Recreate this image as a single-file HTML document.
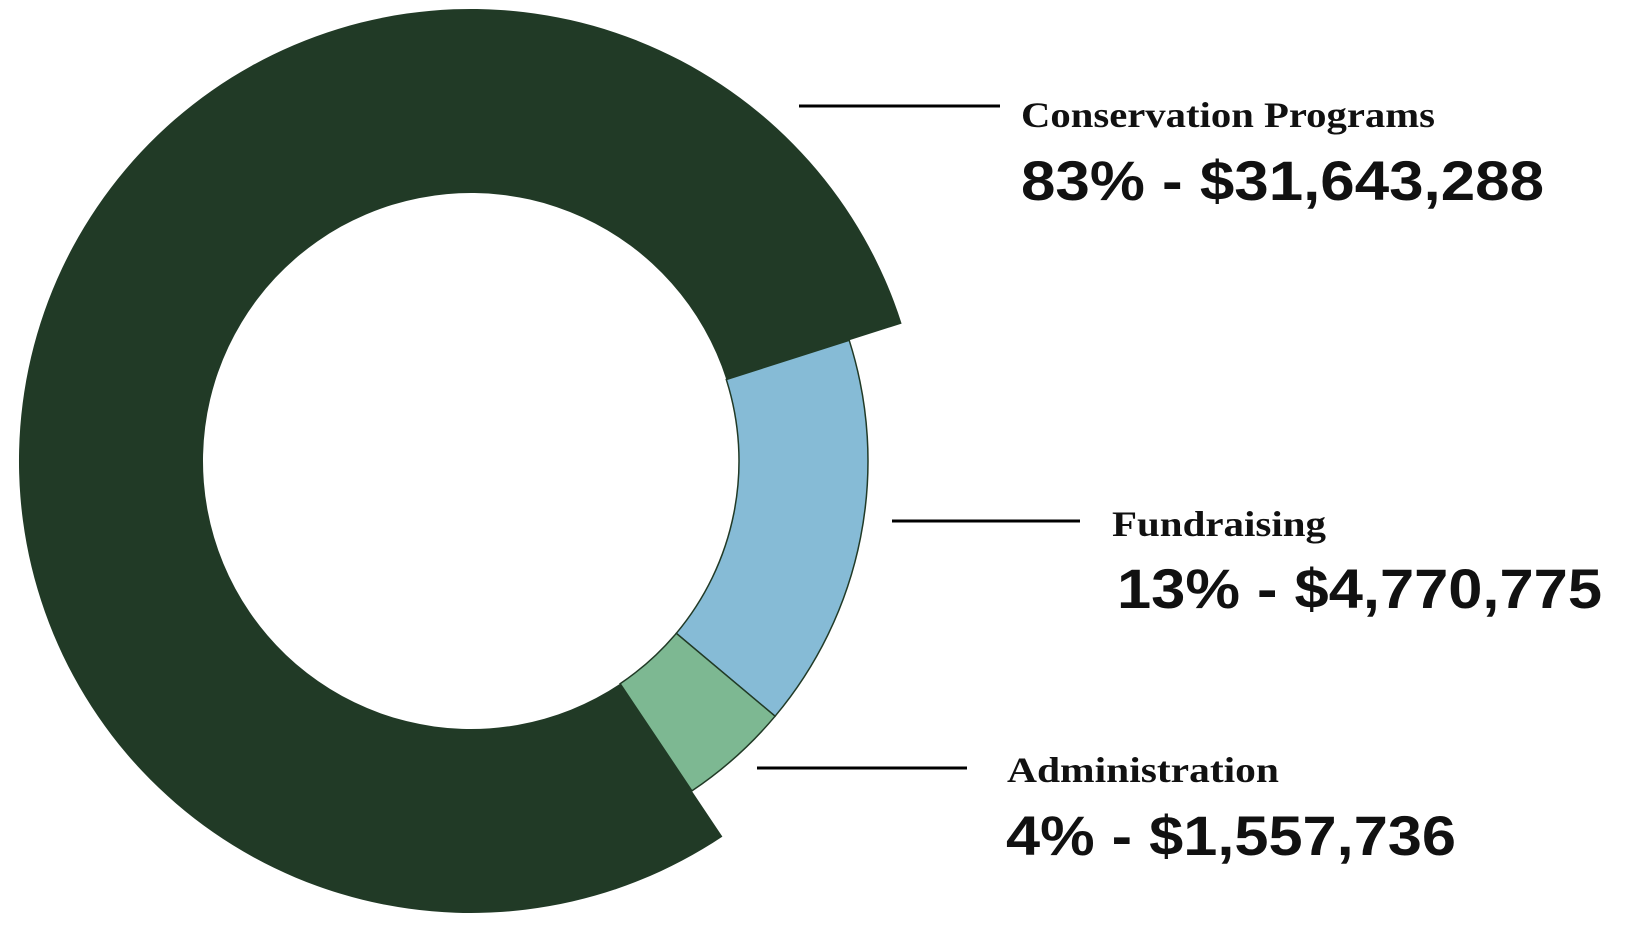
<!DOCTYPE html>
<html><head><meta charset="utf-8"><style>
html,body{margin:0;padding:0;background:#fff;width:1632px;height:926px;overflow:hidden}
</style></head><body>
<svg width="1632" height="926" viewBox="0 0 1632 926" xmlns="http://www.w3.org/2000/svg">
<path d="M849.2,340.3 A397,397 0 0 1 775.1,716.2 L676.3,633.3 A268,268 0 0 0 726.3,379.5 Z" fill="#86bbd6" stroke="#213a26" stroke-width="1.5"/>
<path d="M775.1,716.2 A397,397 0 0 1 691.9,790.9 L620.1,683.7 A268,268 0 0 0 676.3,633.3 Z" fill="#7db892" stroke="#213a26" stroke-width="1.5"/>
<path d="M722.4,836.6 A452,452 0 1 1 901.6,323.6 L726.3,379.5 A268,268 0 1 0 620.1,683.7 Z" fill="#213a26"/>
<g stroke="#000" stroke-width="3">
<line x1="799" y1="106" x2="1000" y2="106"/>
<line x1="892" y1="521" x2="1080" y2="521"/>
<line x1="757" y1="768" x2="967" y2="768"/>
</g>
<g fill="#111" font-family="Liberation Serif, serif" font-weight="bold" font-size="36">
<text x="1021" y="127" textLength="414" lengthAdjust="spacingAndGlyphs">Conservation Programs</text>
<text x="1112" y="536" textLength="214" lengthAdjust="spacingAndGlyphs">Fundraising</text>
<text x="1007" y="782" textLength="272" lengthAdjust="spacingAndGlyphs">Administration</text>
</g>
<g fill="#111" font-family="Liberation Sans, sans-serif" font-weight="bold" font-size="56">
<text x="1021" y="200" textLength="523" lengthAdjust="spacingAndGlyphs">83% - $31,643,288</text>
<text x="1117" y="608" textLength="485" lengthAdjust="spacingAndGlyphs">13% - $4,770,775</text>
<text x="1006" y="855" textLength="450" lengthAdjust="spacingAndGlyphs">4% - $1,557,736</text>
</g>
</svg>
</body></html>
